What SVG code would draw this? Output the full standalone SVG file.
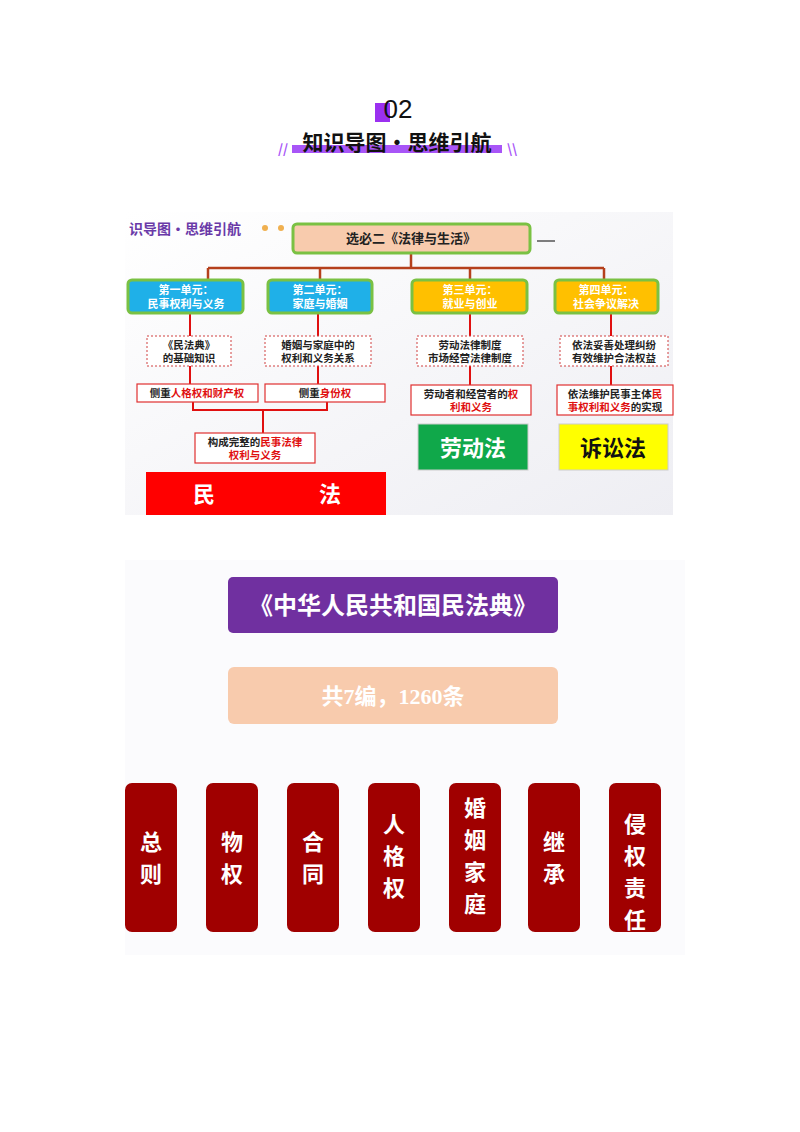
<svg xmlns="http://www.w3.org/2000/svg" width="800" height="1132" viewBox="0 0 800 1132">
<defs>
<linearGradient id="bg" x1="0" y1="0" x2="1" y2="1"><stop offset="0" stop-color="#ffffff"/><stop offset="1" stop-color="#eeeef3"/></linearGradient>
</defs>
<style>
text{font-family:"Noto Sans CJK SC","Liberation Sans",sans-serif;font-weight:bold;text-anchor:middle}
.unit{stroke:#7ac143;stroke-width:3}
.ut{fill:#fff;font-size:11px}
.dot{fill:#fff;stroke:#d04040;stroke-width:1;stroke-dasharray:2 2}
.rb{fill:#fff;stroke:#e03030;stroke-width:1.2}
.t{font-size:10.5px;fill:#222}
.r{fill:#e01010}
.br{stroke:#b5401c;stroke-width:2.5;fill:none}
.rl{stroke:#e01010;stroke-width:2;fill:none}
.k{stroke:#111;stroke-width:2;fill:none}
.vol{fill:#a00000}
.vt{fill:#fff;font-size:22px}
</style>
<rect width="800" height="1132" fill="#fff"/>
<g id="title">
<rect x="375" y="103" width="15" height="19" fill="#9b30f0"/>
<text x="398" y="118" font-size="26" font-weight="normal" fill="#111" style="font-family:'Liberation Sans',sans-serif;font-weight:normal">02</text>
<rect x="292" y="145" width="210" height="8" fill="#a855f7"/>
<text x="397" y="150" font-size="21" fill="#111">知识导图·思维引航</text>
<text x="283" y="154" font-size="13" fill="#a855f7" font-weight="normal">//</text>
<text x="512" y="154" font-size="13" fill="#a855f7" font-weight="normal">\\</text>
</g>
<g id="panel1">
<rect x="125" y="212" width="548" height="303" fill="url(#bg)"/>
<text x="185" y="234" font-size="14" fill="#6a3aa8">识导图·思维引航</text>
<circle cx="265" cy="228" r="3" fill="#f0b050"/><circle cx="281" cy="228" r="3" fill="#f0b050"/>
<line x1="537" y1="241" x2="555" y2="241" stroke="#555" stroke-width="1.5"/>
</g>
<g id="connectors">
<path class="br" d="M411 253V268M208 268H604M208 268V280M320 268V280M470 268V280M604 268V280"/>
<path class="rl" d="M190 313V336M190 366V384M318 313V336M318 366V384M470 313V336M470 366V385M611 313V336M611 366V385"/>
<path class="rl" d="M193 402V410H327V402M263 410V433"/>
<line class="k" x1="393" y1="633" x2="393" y2="667"/>
<path class="k" d="M393 724V757M151 757H634M151 757V783M232 757V783M313 757V783M394 757V783M475 757V783M554 757V783M635 757V783"/>
</g>
<g id="top"><rect x="293" y="224" width="237" height="29" rx="4" fill="#f8cbad" class="unit"/><text x="411" y="243" font-size="13" fill="#222">选必二《法律与生活》</text></g>
<g id="u1"><rect x="128" y="280" width="115" height="33" rx="4" fill="#1fb0e8" class="unit"/><text class="ut" x="186" y="294">第一单元：</text><text class="ut" x="186" y="308">民事权利与义务</text></g>
<g id="u2"><rect x="268" y="280" width="104" height="33" rx="4" fill="#1fb0e8" class="unit"/><text class="ut" x="320" y="294">第二单元：</text><text class="ut" x="320" y="308">家庭与婚姻</text></g>
<g id="u3"><rect x="412" y="280" width="115" height="33" rx="4" fill="#ffc000" class="unit"/><text class="ut" x="470" y="294">第三单元：</text><text class="ut" x="470" y="308">就业与创业</text></g>
<g id="u4"><rect x="555" y="280" width="103" height="33" rx="4" fill="#ffc000" class="unit"/><text class="ut" x="606" y="294">第四单元：</text><text class="ut" x="606" y="308">社会争议解决</text></g>
<g id="d1"><rect class="dot" x="147" y="336" width="84" height="30"/><text class="t" x="189" y="349">《民法典》</text><text class="t" x="189" y="362">的基础知识</text></g>
<g id="d2"><rect class="dot" x="265" y="336" width="106" height="30"/><text class="t" x="318" y="349">婚姻与家庭中的</text><text class="t" x="318" y="362">权利和义务关系</text></g>
<g id="d3"><rect class="dot" x="417" y="336" width="106" height="30"/><text class="t" x="470" y="349">劳动法律制度</text><text class="t" x="470" y="362">市场经营法律制度</text></g>
<g id="d4"><rect class="dot" x="560" y="336" width="108" height="30"/><text class="t" x="614" y="349">依法妥善处理纠纷</text><text class="t" x="614" y="362">有效维护合法权益</text></g>
<g id="r1"><rect class="rb" x="137" y="384" width="121" height="18"/><text class="t" x="197" y="397">侧重<tspan class="r">人格权和财产权</tspan></text></g>
<g id="r2"><rect class="rb" x="265" y="384" width="120" height="18"/><text class="t" x="325" y="397">侧重<tspan class="r">身份权</tspan></text></g>
<g id="r3"><rect class="rb" x="411" y="385" width="120" height="30"/><text class="t" x="471" y="398">劳动者和经营者的<tspan class="r">权</tspan></text><text class="t r" x="471" y="411">利和义务</text></g>
<g id="r4"><rect class="rb" x="557" y="385" width="116" height="30"/><text class="t" x="615" y="398">依法维护民事主体<tspan class="r">民</tspan></text><text class="t" x="615" y="411"><tspan class="r">事权利和义务</tspan>的实现</text></g>
<g id="res"><rect class="rb" x="195" y="433" width="120" height="30"/><text class="t" x="255" y="446">构成完整的<tspan class="r">民事法律</tspan></text><text class="t r" x="255" y="459">权利与义务</text></g>
<g id="minfa"><rect x="146" y="472" width="240" height="43" fill="#ff0000"/><text x="204" y="502" font-size="22" fill="#fff">民</text><text x="330" y="502" font-size="22" fill="#fff">法</text></g>
<g id="ldf"><rect x="418" y="424" width="110" height="46" fill="#10a84a" stroke="#ccc"/><text x="473" y="456" font-size="22" fill="#fff">劳动法</text></g>
<g id="ssf"><rect x="559" y="424" width="109" height="46" fill="#ffff00" stroke="#ccc"/><text x="613" y="456" font-size="22" fill="#111">诉讼法</text></g>
<g id="panel2bg"><rect x="125" y="560" width="560" height="395" fill="#fbfbfd"/></g>
<g id="civ"><rect x="228" y="577" width="330" height="56" rx="5" fill="#7030a0"/><text x="393" y="614" font-size="24" fill="#fff" font-weight="normal">《中华人民共和国民法典》</text></g>
<g id="cnt"><rect x="228" y="667" width="330" height="57" rx="6" fill="#f8cbad"/><text x="393" y="704" font-size="22" fill="#fff" style="font-family:'Liberation Serif','Noto Sans CJK SC',serif">共7编，1260条</text></g>
<g id="v1"><rect class="vol" x="125" y="783" width="52" height="149" rx="7"/><text class="vt" x="151" y="850">总</text><text class="vt" x="151" y="882">则</text></g>
<g id="v2"><rect class="vol" x="206" y="783" width="52" height="149" rx="7"/><text class="vt" x="232" y="850">物</text><text class="vt" x="232" y="882">权</text></g>
<g id="v3"><rect class="vol" x="287" y="783" width="52" height="149" rx="7"/><text class="vt" x="313" y="850">合</text><text class="vt" x="313" y="882">同</text></g>
<g id="v4"><rect class="vol" x="368" y="783" width="52" height="149" rx="7"/><text class="vt" x="394" y="832">人</text><text class="vt" x="394" y="864">格</text><text class="vt" x="394" y="896">权</text></g>
<g id="v5"><rect class="vol" x="449" y="783" width="52" height="149" rx="7"/><text class="vt" x="475" y="816">婚</text><text class="vt" x="475" y="848">姻</text><text class="vt" x="475" y="880">家</text><text class="vt" x="475" y="912">庭</text></g>
<g id="v6"><rect class="vol" x="528" y="783" width="52" height="149" rx="7"/><text class="vt" x="554" y="850">继</text><text class="vt" x="554" y="882">承</text></g>
<g id="v7"><rect class="vol" x="609" y="783" width="52" height="149" rx="7"/><text class="vt" x="635" y="832">侵</text><text class="vt" x="635" y="864">权</text><text class="vt" x="635" y="896">责</text><text class="vt" x="635" y="928">任</text></g>
</svg>
